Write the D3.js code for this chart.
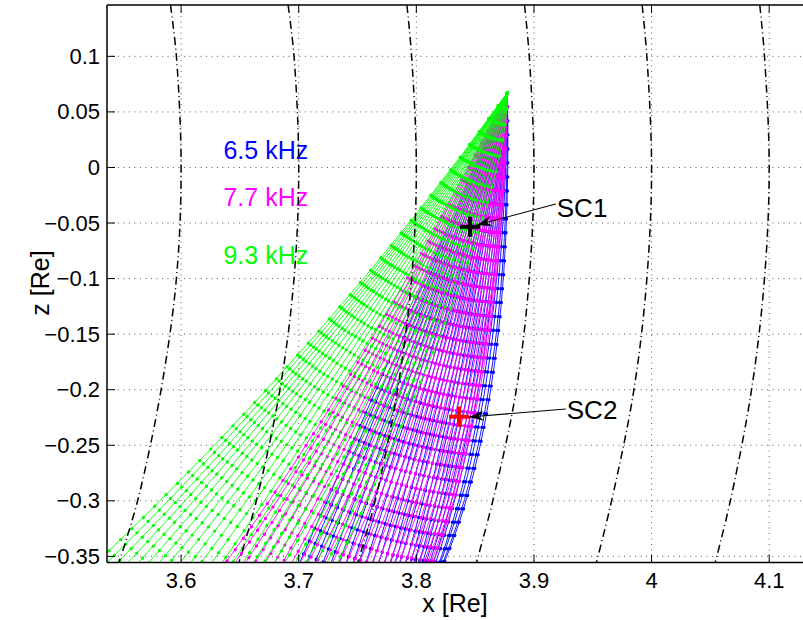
<!DOCTYPE html>
<html>
<head>
<meta charset="utf-8">
<script src="https://cdn.jsdelivr.net/npm/d3@7"></script>
<style>
  body { margin: 0; background: #fff; }
  text { font-family: "Liberation Sans", Arial, Helvetica, sans-serif; }
</style>
</head>
<body>
<div id="chart"></div>
<script>
// axis ticks
const xTicks = [3.6, 3.7, 3.8, 3.9, 4.0, 4.1];
const xTickLabels = ["3.6", "3.7", "3.8", "3.9", "4", "4.1"];
const zTicks = [0.1, 0.05, 0, -0.05, -0.1, -0.15, -0.2, -0.25, -0.3, -0.35];
const zTickLabels = ["0.1", "0.05", "0", "\u22120.05", "\u22120.1", "\u22120.15", "\u22120.2", "\u22120.25", "\u22120.3", "\u22120.35"];

// dipole field lines (L shells), x read at these z levels
const fieldZ = [0.146, 0.1, 0, -0.1, -0.2, -0.3, -0.356];
const fieldL = [3.6, 3.7, 3.8, 3.9, 4.0, 4.1];
const fieldX = [
  [3.591, 3.596, 3.600, 3.596, 3.583, 3.563, 3.547],
  [3.691, 3.696, 3.700, 3.696, 3.684, 3.664, 3.649],
  [3.792, 3.796, 3.800, 3.796, 3.784, 3.765, 3.750],
  [3.892, 3.896, 3.900, 3.896, 3.885, 3.865, 3.851],
  [3.992, 3.996, 4.000, 3.996, 3.985, 3.966, 3.953],
  [4.092, 4.096, 4.100, 4.096, 4.085, 4.067, 4.054]
];

// ray source and exit level
const rayOrigin = [3.8774, 0.0672];
const rayEndZ = -0.36;

// 6.5 kHz rays: exit x, bend point x, bend point z
const blueEndX = [3.699, 3.705, 3.712, 3.719, 3.726, 3.733, 3.739, 3.745, 3.750, 3.756,
  3.762, 3.767, 3.772, 3.777, 3.781, 3.785, 3.790, 3.794, 3.797, 3.801,
  3.804, 3.807, 3.810, 3.813, 3.815, 3.818, 3.819, 3.821, 3.822];
const blueCtrlX = [3.762, 3.767, 3.771, 3.775, 3.780, 3.784, 3.788, 3.793, 3.797, 3.801,
  3.806, 3.810, 3.814, 3.819, 3.823, 3.827, 3.832, 3.836, 3.840, 3.845,
  3.849, 3.853, 3.858, 3.862, 3.866, 3.871, 3.875, 3.880, 3.883];
const blueCtrlZ = -0.209;

// 7.7 kHz rays
const magentaEndX = [3.635, 3.643, 3.652, 3.660, 3.669, 3.677, 3.684, 3.692, 3.699, 3.706,
  3.713, 3.720, 3.727, 3.733, 3.739, 3.745, 3.750, 3.756, 3.761, 3.766,
  3.771, 3.776, 3.780, 3.784, 3.789, 3.793, 3.797, 3.801, 3.805, 3.808,
  3.811, 3.813];
const magentaCtrlX = [3.752, 3.756, 3.760, 3.764, 3.768, 3.772, 3.776, 3.781, 3.785, 3.789,
  3.793, 3.797, 3.801, 3.805, 3.809, 3.813, 3.817, 3.821, 3.825, 3.829,
  3.833, 3.837, 3.841, 3.845, 3.850, 3.854, 3.858, 3.862, 3.866, 3.869,
  3.871, 3.873];
const magentaCtrlZ = -0.191;

// 9.3 kHz rays
const greenEndX = [3.524, 3.533, 3.542, 3.551, 3.560, 3.569, 3.578, 3.587, 3.596, 3.605,
  3.614, 3.623, 3.632, 3.641, 3.650, 3.659, 3.668, 3.677, 3.686, 3.695,
  3.704, 3.713, 3.722, 3.731];
const greenCtrlX = [3.727, 3.733, 3.740, 3.746, 3.753, 3.760, 3.766, 3.773, 3.780, 3.786,
  3.793, 3.799, 3.806, 3.813, 3.819, 3.826, 3.832, 3.839, 3.846, 3.852,
  3.859, 3.866, 3.872, 3.879];
const greenCtrlZ = [-0.156, -0.151, -0.146, -0.141, -0.135, -0.130, -0.125, -0.120, -0.115, -0.110,
  -0.105, -0.100, -0.094, -0.089, -0.084, -0.079, -0.074, -0.069, -0.064, -0.059,
  -0.053, -0.048, -0.043, -0.038];

const freqLabels = ["6.5 kHz", "7.7 kHz", "9.3 kHz"];
const freqLabelX = [3.636, 3.636, 3.636];
const freqLabelZ = [0.0157, -0.0266, -0.0788];

// spacecraft positions and annotation arrows
const scNames = ["SC1", "SC2"];
const scX = [3.8456, 3.8363];
const scZ = [-0.0534, -0.2243];
const arrowFromX = [3.9186, 3.9271];
const arrowFromZ = [-0.0329, -0.2174];
const arrowToX = [3.8514, 3.8446];
const arrowToZ = [-0.0518, -0.2246];
const scLabelX = [3.9194, 3.9279];
const scLabelZ = [-0.0365, -0.2183];

const families = [
  { endX: blueEndX, ctrlX: blueCtrlX, ctrlZ: blueCtrlZ, color: "#0000ff", step: 14 },
  { endX: magentaEndX, ctrlX: magentaCtrlX, ctrlZ: magentaCtrlZ, color: "#ff00ff", step: 14 },
  { endX: greenEndX, ctrlX: greenCtrlX, ctrlZ: greenCtrlZ, color: "#00ff00", step: 16 }
];
const scColors = ["#000000", "#ff0000"];
const labelColors = ["#0000ff", "#ff00ff", "#00ff00"];

const width = 803, height = 620;
const pLeft = 107, pTop = 5, pBottom = 562.5, pRight = 828;

const svg = d3.select("#chart").append("svg")
  .attr("width", width).attr("height", height)
  .style("background", "#fff");

const x = d3.scaleLinear().domain([3.537, 4.15]).range([pLeft, pRight]);
const y = d3.scaleLinear().domain([-0.3555, 0.1462]).range([pBottom, pTop]);

const defs = svg.append("defs");
defs.append("clipPath").attr("id", "plotClip")
  .append("rect").attr("x", pLeft).attr("y", pTop)
  .attr("width", pRight - pLeft).attr("height", pBottom - pTop);

defs.append("marker")
  .attr("id", "head")
  .attr("viewBox", "-16 -7 18 14")
  .attr("refX", 0).attr("refY", 0)
  .attr("markerUnits", "userSpaceOnUse")
  .attr("markerWidth", 18).attr("markerHeight", 14)
  .attr("orient", "auto")
  .append("path")
  .attr("d", "M0,0 L-15,-5 L-10,0 L-15,5 Z")
  .attr("fill", "#000");

// grid
const grid = svg.append("g").attr("clip-path", "url(#plotClip)");
grid.selectAll(".vgrid").data(xTicks).enter().append("line")
  .attr("x1", d => x(d)).attr("x2", d => x(d))
  .attr("y1", pTop).attr("y2", pBottom)
  .attr("stroke", "#333").attr("stroke-width", 0.8).attr("stroke-dasharray", "1,4.5");
grid.selectAll(".hgrid").data(zTicks).enter().append("line")
  .attr("x1", pLeft).attr("x2", pRight)
  .attr("y1", d => y(d)).attr("y2", d => y(d))
  .attr("stroke", "#333").attr("stroke-width", 0.8).attr("stroke-dasharray", "1,4.5");

// rays
const plot = svg.append("g").attr("clip-path", "url(#plotClip)");
function rayPath(f, i) {
  const cz = typeof f.ctrlZ === "number" ? f.ctrlZ : f.ctrlZ[i];
  const p = d3.path();
  p.moveTo(x(rayOrigin[0]), y(rayOrigin[1]));
  p.quadraticCurveTo(x(f.ctrlX[i]), y(cz), x(f.endX[i]), y(rayEndZ));
  return p.toString();
}
families.forEach(f => {
  const g = plot.append("g");
  g.selectAll(".ray").data(f.endX).enter().append("path")
    .attr("d", (d, i) => rayPath(f, i))
    .attr("fill", "none").attr("stroke", f.color).attr("stroke-width", 0.9);
  g.selectAll(".dots").data(f.endX).enter().append("path")
    .attr("d", (d, i) => rayPath(f, i))
    .attr("fill", "none").attr("stroke", f.color).attr("stroke-width", 3.4)
    .attr("stroke-linecap", "round").attr("stroke-dasharray", `0 ${f.step}`);
});

// frequency labels
svg.selectAll(".flabel").data(freqLabels).enter().append("text")
  .attr("x", (d, i) => x(freqLabelX[i])).attr("y", (d, i) => y(freqLabelZ[i]))
  .attr("dominant-baseline", "central")
  .attr("font-size", 25).attr("fill", (d, i) => labelColors[i])
  .text(d => d);

// field lines
const fieldLine = d3.line().curve(d3.curveCatmullRom)
  .x(d => x(d[0])).y(d => y(d[1]));
const fieldG = svg.append("g").attr("clip-path", "url(#plotClip)");
fieldG.selectAll(".field").data(fieldX).enter().append("path")
  .attr("d", row => fieldLine(row.map((v, j) => [v, fieldZ[j]])))
  .attr("fill", "none").attr("stroke", "#000").attr("stroke-width", 1.5)
  .attr("stroke-dasharray", "8,3.5,1,3.5");

// spacecraft markers
scNames.forEach((n, i) => {
  const cx = x(scX[i]), cy = y(scZ[i]);
  const sz = 10;
  const m = svg.append("g").attr("stroke", scColors[i]).attr("stroke-width", 4);
  m.append("line").attr("x1", cx - sz).attr("x2", cx + sz).attr("y1", cy).attr("y2", cy);
  m.append("line").attr("x1", cx).attr("x2", cx).attr("y1", cy - sz).attr("y2", cy + sz);
  svg.append("line")
    .attr("x1", x(arrowFromX[i])).attr("y1", y(arrowFromZ[i]))
    .attr("x2", x(arrowToX[i])).attr("y2", y(arrowToZ[i]))
    .attr("stroke", "#000").attr("stroke-width", 1.1)
    .attr("marker-end", "url(#head)");
  svg.append("text")
    .attr("x", x(scLabelX[i])).attr("y", y(scLabelZ[i]))
    .attr("dominant-baseline", "central")
    .attr("font-size", 26).attr("fill", "#000")
    .text(n);
});

// axes box
const ax = svg.append("g").attr("stroke", "#000").attr("stroke-width", 1.5);
ax.append("line").attr("x1", pLeft).attr("x2", pLeft).attr("y1", pTop).attr("y2", pBottom);
ax.append("line").attr("x1", pLeft).attr("x2", width).attr("y1", pBottom).attr("y2", pBottom);
ax.append("line").attr("x1", pLeft).attr("x2", width).attr("y1", pTop).attr("y2", pTop);

const tickLen = 8;
svg.selectAll(".xtb").data(xTicks).enter().append("line")
  .attr("x1", d => x(d)).attr("x2", d => x(d))
  .attr("y1", pBottom).attr("y2", pBottom - tickLen)
  .attr("stroke", "#000").attr("stroke-width", 1);
svg.selectAll(".xtt").data(xTicks).enter().append("line")
  .attr("x1", d => x(d)).attr("x2", d => x(d))
  .attr("y1", pTop).attr("y2", pTop + tickLen)
  .attr("stroke", "#000").attr("stroke-width", 1);
svg.selectAll(".ztl").data(zTicks).enter().append("line")
  .attr("x1", pLeft).attr("x2", pLeft + tickLen)
  .attr("y1", d => y(d)).attr("y2", d => y(d))
  .attr("stroke", "#000").attr("stroke-width", 1);

svg.selectAll(".xlab").data(xTicks).enter().append("text")
  .attr("x", d => x(d)).attr("y", pBottom + 18)
  .attr("text-anchor", "middle").attr("dominant-baseline", "central")
  .attr("font-size", 22).text((d, i) => xTickLabels[i]);
svg.selectAll(".zlab").data(zTicks).enter().append("text")
  .attr("x", pLeft - 7).attr("y", d => y(d))
  .attr("text-anchor", "end").attr("dominant-baseline", "central")
  .attr("font-size", 22).text((d, i) => zTickLabels[i]);

svg.append("text")
  .attr("x", 455).attr("y", 603)
  .attr("text-anchor", "middle").attr("dominant-baseline", "central")
  .attr("font-size", 25).text("x [Re]");
svg.append("text")
  .attr("transform", "translate(40,283) rotate(-90)")
  .attr("text-anchor", "middle").attr("dominant-baseline", "central")
  .attr("font-size", 25).text("z [Re]");
</script>
</body>
</html>
